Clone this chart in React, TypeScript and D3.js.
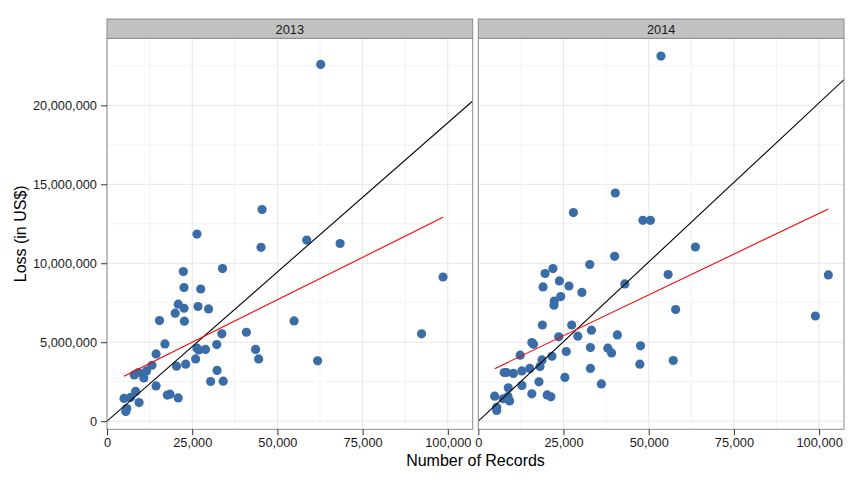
// @ts-nocheck
import { useEffect, useRef } from "react";
import * as d3 from "d3";

const years = ["2013", "2014"];

// records and losses
const records2013 = [
  62700, 45500, 26400, 58600, 45200, 68400, 33900, 22400, 22600, 27500,
  20900, 26700, 20000, 22600, 29800, 22700, 15400, 54900, 40900, 33700,
  92300, 17000, 32200, 26400, 26900, 28900, 43600, 44500, 61800, 26000,
  14400, 13200, 23100, 20400, 11600, 32300, 9200, 8000, 10800, 30400,
  34100, 14400, 17700, 18500, 20900, 8400, 5000, 6900, 9400, 5800,
  5500, 98600,
];
const loss2013 = [
  22590000, 13400000, 11850000, 11470000, 11010000, 11250000, 9660000, 9470000, 8460000, 8370000,
  7410000, 7260000, 6840000, 7150000, 7110000, 6330000, 6370000, 6350000, 5630000, 5530000,
  5530000, 4890000, 4850000, 4620000, 4510000, 4540000, 4540000, 3940000, 3820000, 3940000,
  4260000, 3540000, 3610000, 3480000, 3180000, 3210000, 3080000, 2930000, 2740000, 2510000,
  2530000, 2230000, 1650000, 1710000, 1470000, 1880000, 1440000, 1500000, 1180000, 800000,
  610000, 9130000,
];
const records2014 = [
  53600, 40200, 27900, 48300, 50500, 63700, 40000, 32700, 55700, 21900,
  19600, 19000, 23800, 26600, 30400, 43000, 24200, 22300, 22200, 57900,
  18800, 27400, 33200, 40800, 29200, 23600, 15700, 16200, 12300, 32900,
  38000, 39100, 47600, 25800, 21600, 18700, 18100, 15100, 12800, 7600,
  8300, 10300, 57200, 47400, 32900, 25400, 17800, 12800, 8800, 36100,
  15700, 20200, 21300, 4800, 7300, 8700, 9200, 5400, 5400, 102700,
  98900,
];
const loss2014 = [
  23120000, 14450000, 13210000, 12720000, 12720000, 11030000, 10440000, 9920000, 9280000, 9660000,
  9350000, 8500000, 8880000, 8560000, 8150000, 8690000, 7890000, 7610000, 7340000, 7070000,
  6090000, 6090000, 5760000, 5460000, 5380000, 5340000, 4980000, 4870000, 4180000, 4660000,
  4620000, 4320000, 4770000, 4410000, 4110000, 3880000, 3460000, 3340000, 3180000, 3080000,
  3080000, 3020000, 3840000, 3610000, 3340000, 2770000, 2490000, 2260000, 2110000, 2360000,
  1730000, 1660000, 1540000, 1580000, 1420000, 1560000, 1280000, 870000, 680000, 9260000,
  6660000,
];

// linear fit (red) and fit through origin (black), per year
const fitIntercept = [2310000, 2830000];
const fitSlope = [107.5, 103.3];
const originSlope = [189, 201.6];

const xTicks = [0, 25000, 50000, 75000, 100000];
const xMinor = [12500, 37500, 62500, 87500];
const yTicks = [0, 5000000, 10000000, 15000000, 20000000];
const yMinor = [2500000, 7500000, 12500000, 17500000, 22500000];
const xMax = 107300;

const App = () => {
  const ref = useRef(null);

  useEffect(() => {
    const width = 864;
    const height = 480;
    const panelTop = 38.3;
    const panelBottom = 429.3;
    const stripTop = 19;
    const panelLefts = [107, 478.3];
    const panelW = 365.7;
    const font = "'Liberation Sans', Arial, Helvetica, sans-serif";

    const svg = d3.select(ref.current);
    svg.selectAll("*").remove();
    svg.attr("width", width).attr("height", height);

    const series = [
      records2013.map((r, i) => ({ r, l: loss2013[i] })),
      records2014.map((r, i) => ({ r, l: loss2014[i] })),
    ];
    const all = series.flat();
    const [lo, hi] = d3.extent(all, (d) => d.l);
    const pad = (hi - lo) * 0.05;

    const y = d3
      .scaleLinear()
      .domain([lo - pad, hi + pad])
      .range([panelBottom, panelTop]);

    years.forEach((year, k) => {
      const left = panelLefts[k];
      const x = d3.scaleLinear().domain([0, xMax]).range([left, left + panelW]);
      const g = svg.append("g");

      g.append("rect")
        .attr("x", left)
        .attr("y", panelTop)
        .attr("width", panelW)
        .attr("height", panelBottom - panelTop)
        .attr("fill", "white");

      // grid
      g.selectAll(".xm")
        .data(xMinor)
        .join("line")
        .attr("x1", (d) => x(d))
        .attr("x2", (d) => x(d))
        .attr("y1", panelTop)
        .attr("y2", panelBottom)
        .attr("stroke", "#F3F3F3")
        .attr("stroke-width", 1);
      g.selectAll(".ym")
        .data(yMinor)
        .join("line")
        .attr("x1", left)
        .attr("x2", left + panelW)
        .attr("y1", (d) => y(d))
        .attr("y2", (d) => y(d))
        .attr("stroke", "#F3F3F3")
        .attr("stroke-width", 1);
      g.selectAll(".xM")
        .data(xTicks)
        .join("line")
        .attr("x1", (d) => x(d))
        .attr("x2", (d) => x(d))
        .attr("y1", panelTop)
        .attr("y2", panelBottom)
        .attr("stroke", "#E6E6E6")
        .attr("stroke-width", 1);
      g.selectAll(".yM")
        .data(yTicks)
        .join("line")
        .attr("x1", left)
        .attr("x2", left + panelW)
        .attr("y1", (d) => y(d))
        .attr("y2", (d) => y(d))
        .attr("stroke", "#E6E6E6")
        .attr("stroke-width", 1);

      // points
      g.selectAll("circle")
        .data(series[k])
        .join("circle")
        .attr("cx", (d) => x(d.r))
        .attr("cy", (d) => y(d.l))
        .attr("r", 4.6)
        .attr("fill", "#3A6DA7");

      const clip = `clip${k}`;
      svg
        .append("clipPath")
        .attr("id", clip)
        .append("rect")
        .attr("x", left)
        .attr("y", panelTop)
        .attr("width", panelW)
        .attr("height", panelBottom - panelTop);

      // line through origin
      g.append("line")
        .attr("clip-path", `url(#${clip})`)
        .attr("x1", x(0))
        .attr("y1", y(0))
        .attr("x2", x(xMax))
        .attr("y2", y(originSlope[k] * xMax))
        .attr("stroke", "black")
        .attr("stroke-width", 1.1);

      // linear fit over data range
      const [rMin, rMax] = d3.extent(series[k], (d) => d.r);
      g.append("line")
        .attr("x1", x(rMin))
        .attr("y1", y(fitIntercept[k] + fitSlope[k] * rMin))
        .attr("x2", x(rMax))
        .attr("y2", y(fitIntercept[k] + fitSlope[k] * rMax))
        .attr("stroke", "red")
        .attr("stroke-width", 1.1);

      // panel border
      g.append("rect")
        .attr("x", left)
        .attr("y", panelTop)
        .attr("width", panelW)
        .attr("height", panelBottom - panelTop)
        .attr("fill", "none")
        .attr("stroke", "#8C8C8C")
        .attr("stroke-width", 1);

      // strip
      g.append("rect")
        .attr("x", left)
        .attr("y", stripTop)
        .attr("width", panelW)
        .attr("height", panelTop - stripTop)
        .attr("fill", "#C2C2C2")
        .attr("stroke", "#8C8C8C")
        .attr("stroke-width", 1);
      g.append("text")
        .attr("x", left + panelW / 2)
        .attr("y", 34)
        .attr("text-anchor", "middle")
        .attr("font-family", font)
        .attr("font-size", 12.8)
        .attr("fill", "#1a1a1a")
        .text(year);

      // x axis
      const xa = g.append("g").attr("transform", `translate(0,${panelBottom})`);
      xa.call(
        d3
          .axisBottom(x)
          .tickValues(xTicks)
          .tickSize(6)
          .tickPadding(3)
          .tickFormat(d3.format(","))
      );
      xa.select(".domain").remove();
      xa.selectAll(".tick line").attr("stroke", "#333").attr("stroke-width", 1);
      xa.selectAll(".tick text")
        .attr("font-family", font)
        .attr("font-size", 12.8)
        .attr("fill", "#1a1a1a");

      if (k === 0) {
        const ya = g.append("g").attr("transform", `translate(${left},0)`);
        ya.call(
          d3
            .axisLeft(y)
            .tickValues(yTicks)
            .tickSize(6)
            .tickPadding(4)
            .tickFormat(d3.format(","))
        );
        ya.select(".domain").remove();
        ya.selectAll(".tick line").attr("stroke", "#333").attr("stroke-width", 1);
        ya.selectAll(".tick text")
          .attr("font-family", font)
          .attr("font-size", 12.8)
          .attr("fill", "#1a1a1a");
      }
    });

    svg
      .append("text")
      .attr("x", (panelLefts[0] + panelLefts[1] + panelW) / 2)
      .attr("y", 466)
      .attr("text-anchor", "middle")
      .attr("font-family", font)
      .attr("font-size", 16)
      .attr("fill", "black")
      .text("Number of Records");

    svg
      .append("text")
      .attr("transform", `translate(26,${(panelTop + panelBottom) / 2}) rotate(-90)`)
      .attr("text-anchor", "middle")
      .attr("font-family", font)
      .attr("font-size", 16)
      .attr("fill", "black")
      .text("Loss (in US$)");
  }, []);

  return (
    <svg
      ref={ref}
      style={{ position: "absolute", left: 0, top: 0, background: "white" }}
    ></svg>
  );
};

export default App;
